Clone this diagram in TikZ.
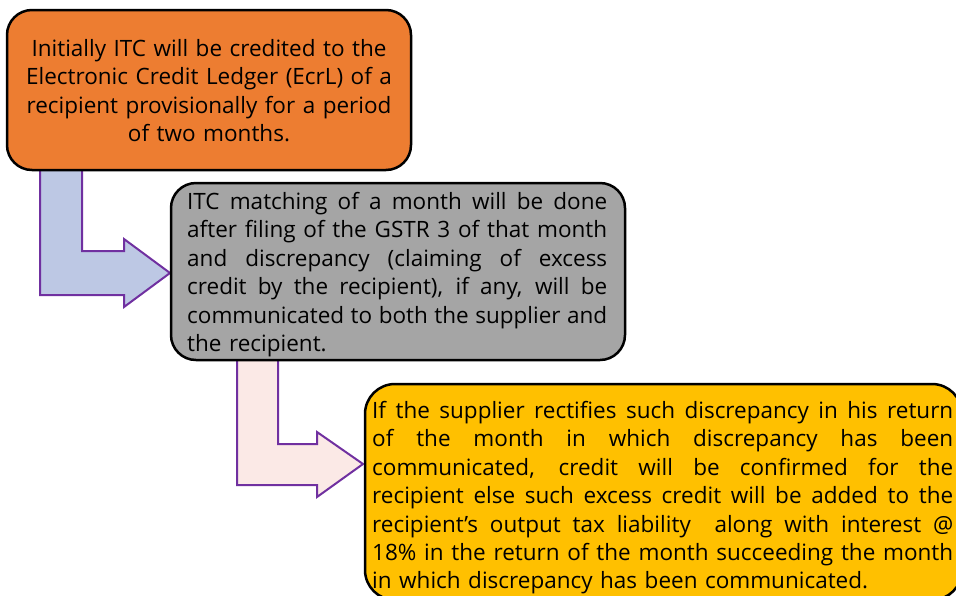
\documentclass[tikz,border=0pt]{standalone}
\usepackage{fontspec}
\setmainfont{Open Sans}
\definecolor{orng}{HTML}{ED7D31}
\definecolor{gry}{HTML}{A5A5A5}
\definecolor{yel}{HTML}{FFC000}
\definecolor{lblue}{HTML}{BDC8E4}
\definecolor{lpink}{HTML}{FBE9E6}
\definecolor{purp}{HTML}{7030A0}
\newcommand{\jl}[2]{{\spaceskip=0pt\xspaceskip=0pt\makebox[#1][s]{#2}}}
\tikzset{
  box/.style={draw=black, line width=2.5pt, rounded corners=25pt, inner sep=0pt},
  barrow/.style={draw=purp, line width=2pt, line join=miter},
  txt/.style={inner sep=0pt, font=\fontsize{22.5}{28.4}\selectfont, text=black}
}
\begin{document}
\begin{tikzpicture}[x=1pt,y=-1pt]
\useasboundingbox (0,0) rectangle (956,595);
\clip (0,0) rectangle (956,595);
% bent arrow 1
\draw[barrow, fill=lblue] (40,165) -- (40,295) -- (124,295) -- (124,307) -- (170,273)
  -- (124,239) -- (124,251) -- (82,251) -- (82,165);
% box 1
\node[box, fill=orng, minimum width=404pt, minimum height=160pt] (b1) at (209,90) {};
\node[txt, anchor=north, text width=400pt, align=center] (t1) at (209,39)
  {Initially ITC will be credited to the\\ Electronic Credit Ledger (EcrL) of a\\ recipient provisionally for a period\\ of two months.};
% bent arrow 2
\draw[barrow, fill=lpink] (237,355) -- (237,485) -- (317,485) -- (317,497) -- (363,464)
  -- (317,432) -- (317,444) -- (278,444) -- (278,355);
% box 2
\node[box, fill=gry, minimum width=454pt, minimum height=177pt] (b2) at (398,271.5) {};
\node[txt, anchor=north west, text width=420pt, align=left] (t2) at (187,192)
  {\jl{420pt}{ITC matching of a month will be done}\\
   \jl{420pt}{after filing of the GSTR 3 of that month}\\
   \jl{420pt}{and discrepancy (claiming of excess}\\
   \jl{420pt}{credit by the recipient), if any, will be}\\
   \jl{420pt}{communicated to both the supplier and}\\
   the recipient.};
% box 3
\node[box, rounded corners=30pt, fill=yel, minimum width=597pt, minimum height=216pt] (b3) at (663.5,492) {};
\node[txt, anchor=north west, text width=581pt, align=left] (t3) at (372,401)
  {\jl{581pt}{If the supplier rectifies such discrepancy in his return}\\
   \jl{581pt}{of the month in which discrepancy has been}\\
   \jl{581pt}{communicated, credit will be confirmed for the}\\
   \jl{581pt}{recipient else such excess credit will be added to the}\\
   \jl{581pt}{recipient’s output tax liability\ \ along with interest @}\\
   \jl{581pt}{18\% in the return of the month succeeding the month}\\
   in which discrepancy has been communicated.};
\end{tikzpicture}
\end{document}
